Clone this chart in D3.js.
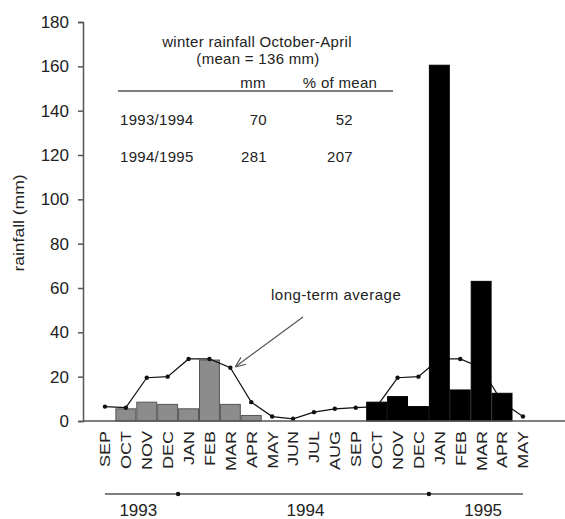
<!DOCTYPE html>
<html>
  <head>
    <meta charset="UTF-8" />
    <script src="https://d3js.org/d3.v7.min.js"></script>
    <style>
      body { margin: 0; background: #fff; }
      svg text { font-family: "Liberation Sans", Arial, sans-serif; fill: #222; }
    </style>
  </head>
  <body>
    <div id="chart"></div>
    <script>
      // months Sep 1993 .. May 1995
      const months = ["SEP","OCT","NOV","DEC","JAN","FEB","MAR","APR","MAY","JUN","JUL","AUG",
                      "SEP","OCT","NOV","DEC","JAN","FEB","MAR","APR","MAY"];
      // winter 1993/1994 (grey) and 1994/1995 (black) rainfall, mm
      const rain9394 = [null, 5.5, 8.5, 7.5, 5.5, 27.5, 7.5, 2.5, null, null, null, null,
                        null, null, null, null, null, null, null, null, null];
      const rain9495 = [null, null, null, null, null, null, null, null, null, null, null, null,
                        null, 8.5, 11, 6.5, 160.5, 14, 63, 12.5, null];
      // long-term average
      const longTerm = [6.5, 6, 19.5, 20, 28, 28, 24, 8.5, 2, 1, 4, 5.5,
                        6, 6.5, 19.5, 20, 28, 28, 24, 8.5, 2];
      const yearLabels = ["1993", "1994", "1995"];
      const yearStart = [0, 4, 16];   // index of first month in each year
      const yearEnd = [3, 15, 20];
      const yTicks = [0, 20, 40, 60, 80, 100, 120, 140, 160, 180];
      // inset table
      const tableRows = ["1993/1994", "1994/1995"];
      const tableMm = [70, 281];
      const tablePct = [52, 207];

      const w = 565, h = 519;
      const svg = d3.select("#chart").append("svg").attr("width", w).attr("height", h);

      const keys = months.map((m, i) => i + m);
      const x = d3.scaleBand().domain(keys).range([94.5, 533.4]).padding(0);
      const y = d3.scaleLinear().domain([0, 180]).range([421, 22]);
      const cx = i => x(keys[i]) + x.bandwidth() / 2;

      // bars
      function bars(vals, fill, stroke) {
        svg.append("g")
          .selectAll("rect")
          .data(vals.map((v, i) => ({ k: keys[i], v: v })).filter(d => d.v !== null))
          .enter()
          .append("rect")
          .attr("x", d => x(d.k) + 0.5)
          .attr("y", d => y(d.v))
          .attr("width", x.bandwidth() - 1)
          .attr("height", d => y(0) - y(d.v))
          .attr("fill", fill)
          .attr("stroke", stroke)
          .attr("stroke-width", 1);
      }
      bars(rain9394, "#8c8c8c", "#555");

      // long-term average line
      const line = d3.line()
        .x((d, i) => cx(i))
        .y(d => y(d));
      svg.append("path")
        .datum(longTerm)
        .attr("d", line)
        .attr("fill", "none")
        .attr("stroke", "#111")
        .attr("stroke-width", 1.2);
      svg.append("g")
        .selectAll("circle")
        .data(longTerm)
        .enter()
        .append("circle")
        .attr("cx", (d, i) => cx(i))
        .attr("cy", d => y(d))
        .attr("r", 2.2)
        .attr("fill", "#111");

      // black bars hide the line
      bars(rain9495, "#000", "#000");

      // y axis
      const yAxis = svg.append("g")
        .attr("transform", "translate(83,0)")
        .call(d3.axisLeft(y).tickValues(yTicks).tickSize(5).tickPadding(9));
      yAxis.select(".domain").attr("stroke", "#555").attr("stroke-width", 1.5);
      yAxis.selectAll(".tick line").attr("stroke", "#555").attr("stroke-width", 1.5);
      yAxis.selectAll(".tick text")
        .style("font-size", "17px")
        .style("font-family", "Liberation Sans, Arial, sans-serif")
        .attr("fill", "#333");

      svg.append("text")
        .attr("transform", "translate(24,223) rotate(-90) scale(1.25,1)")
        .attr("text-anchor", "middle")
        .style("font-size", "14px")
        .text("rainfall (mm)");

      // x axis line
      svg.append("line")
        .attr("x1", 83).attr("x2", w)
        .attr("y1", y(0)).attr("y2", y(0))
        .attr("stroke", "#555").attr("stroke-width", 1.5);

      // month labels
      svg.append("g")
        .selectAll("text")
        .data(months)
        .enter()
        .append("text")
        .attr("transform", (d, i) =>
          "translate(" + cx(i) + ",431) rotate(-90) scale(1.2,1)")
        .attr("text-anchor", "end")
        .attr("dy", "0.36em")
        .style("font-size", "15px")
        .text(d => d);

      // year line
      svg.append("line")
        .attr("x1", cx(0)).attr("x2", cx(months.length - 1))
        .attr("y1", 494).attr("y2", 494)
        .attr("stroke", "#555").attr("stroke-width", 1.5);
      svg.append("g")
        .selectAll("circle")
        .data(yearStart.slice(1))
        .enter()
        .append("circle")
        .attr("cx", d => x(keys[d]))
        .attr("cy", 494)
        .attr("r", 2.2)
        .attr("fill", "#111");
      svg.append("g")
        .selectAll("text")
        .data(yearLabels)
        .enter()
        .append("text")
        .attr("x", (d, i) => (cx(yearStart[i]) + cx(yearEnd[i])) / 2 + 2)
        .attr("y", 516)
        .attr("text-anchor", "middle")
        .style("font-size", "17px")
        .text(d => d);

      // inset table
      const tfont = "15px";
      function ttext(tx, ty, anchor, s) {
        svg.append("text")
          .attr("x", tx).attr("y", ty)
          .attr("text-anchor", anchor)
          .style("font-size", tfont)
          .style("letter-spacing", "0.3px")
          .text(s);
      }
      ttext(257, 47, "middle", "winter rainfall October-April");
      ttext(258, 64, "middle", "(mean = 136 mm)");
      ttext(253, 88, "middle", "mm");
      ttext(340, 88, "middle", "% of mean");
      svg.append("line")
        .attr("x1", 118).attr("x2", 393)
        .attr("y1", 91).attr("y2", 91)
        .attr("stroke", "#555").attr("stroke-width", 1.5);
      const rowY = [125, 162];
      tableRows.forEach(function (r, i) {
        ttext(120, rowY[i], "start", r);
        ttext(267, rowY[i], "end", tableMm[i]);
        ttext(353, rowY[i], "end", tablePct[i]);
      });

      // annotation arrow
      svg.append("text")
        .attr("x", 271).attr("y", 300)
        .style("font-size", "15px")
        .style("letter-spacing", "0.5px")
        .text("long-term average");
      const ax1 = 303, ay1 = 317;
      const ax2 = cx(6) + 5, ay2 = y(longTerm[6]) - 1;
      svg.append("line")
        .attr("x1", ax1).attr("y1", ay1).attr("x2", ax2).attr("y2", ay2)
        .attr("stroke", "#555").attr("stroke-width", 1.2);
      const ang = Math.atan2(ay1 - ay2, ax1 - ax2);
      [0.4, -0.4].forEach(function (da) {
        svg.append("line")
          .attr("x1", ax2).attr("y1", ay2)
          .attr("x2", ax2 + 11 * Math.cos(ang + da))
          .attr("y2", ay2 + 11 * Math.sin(ang + da))
          .attr("stroke", "#555").attr("stroke-width", 1.2);
      });
    </script>
  </body>
</html>
